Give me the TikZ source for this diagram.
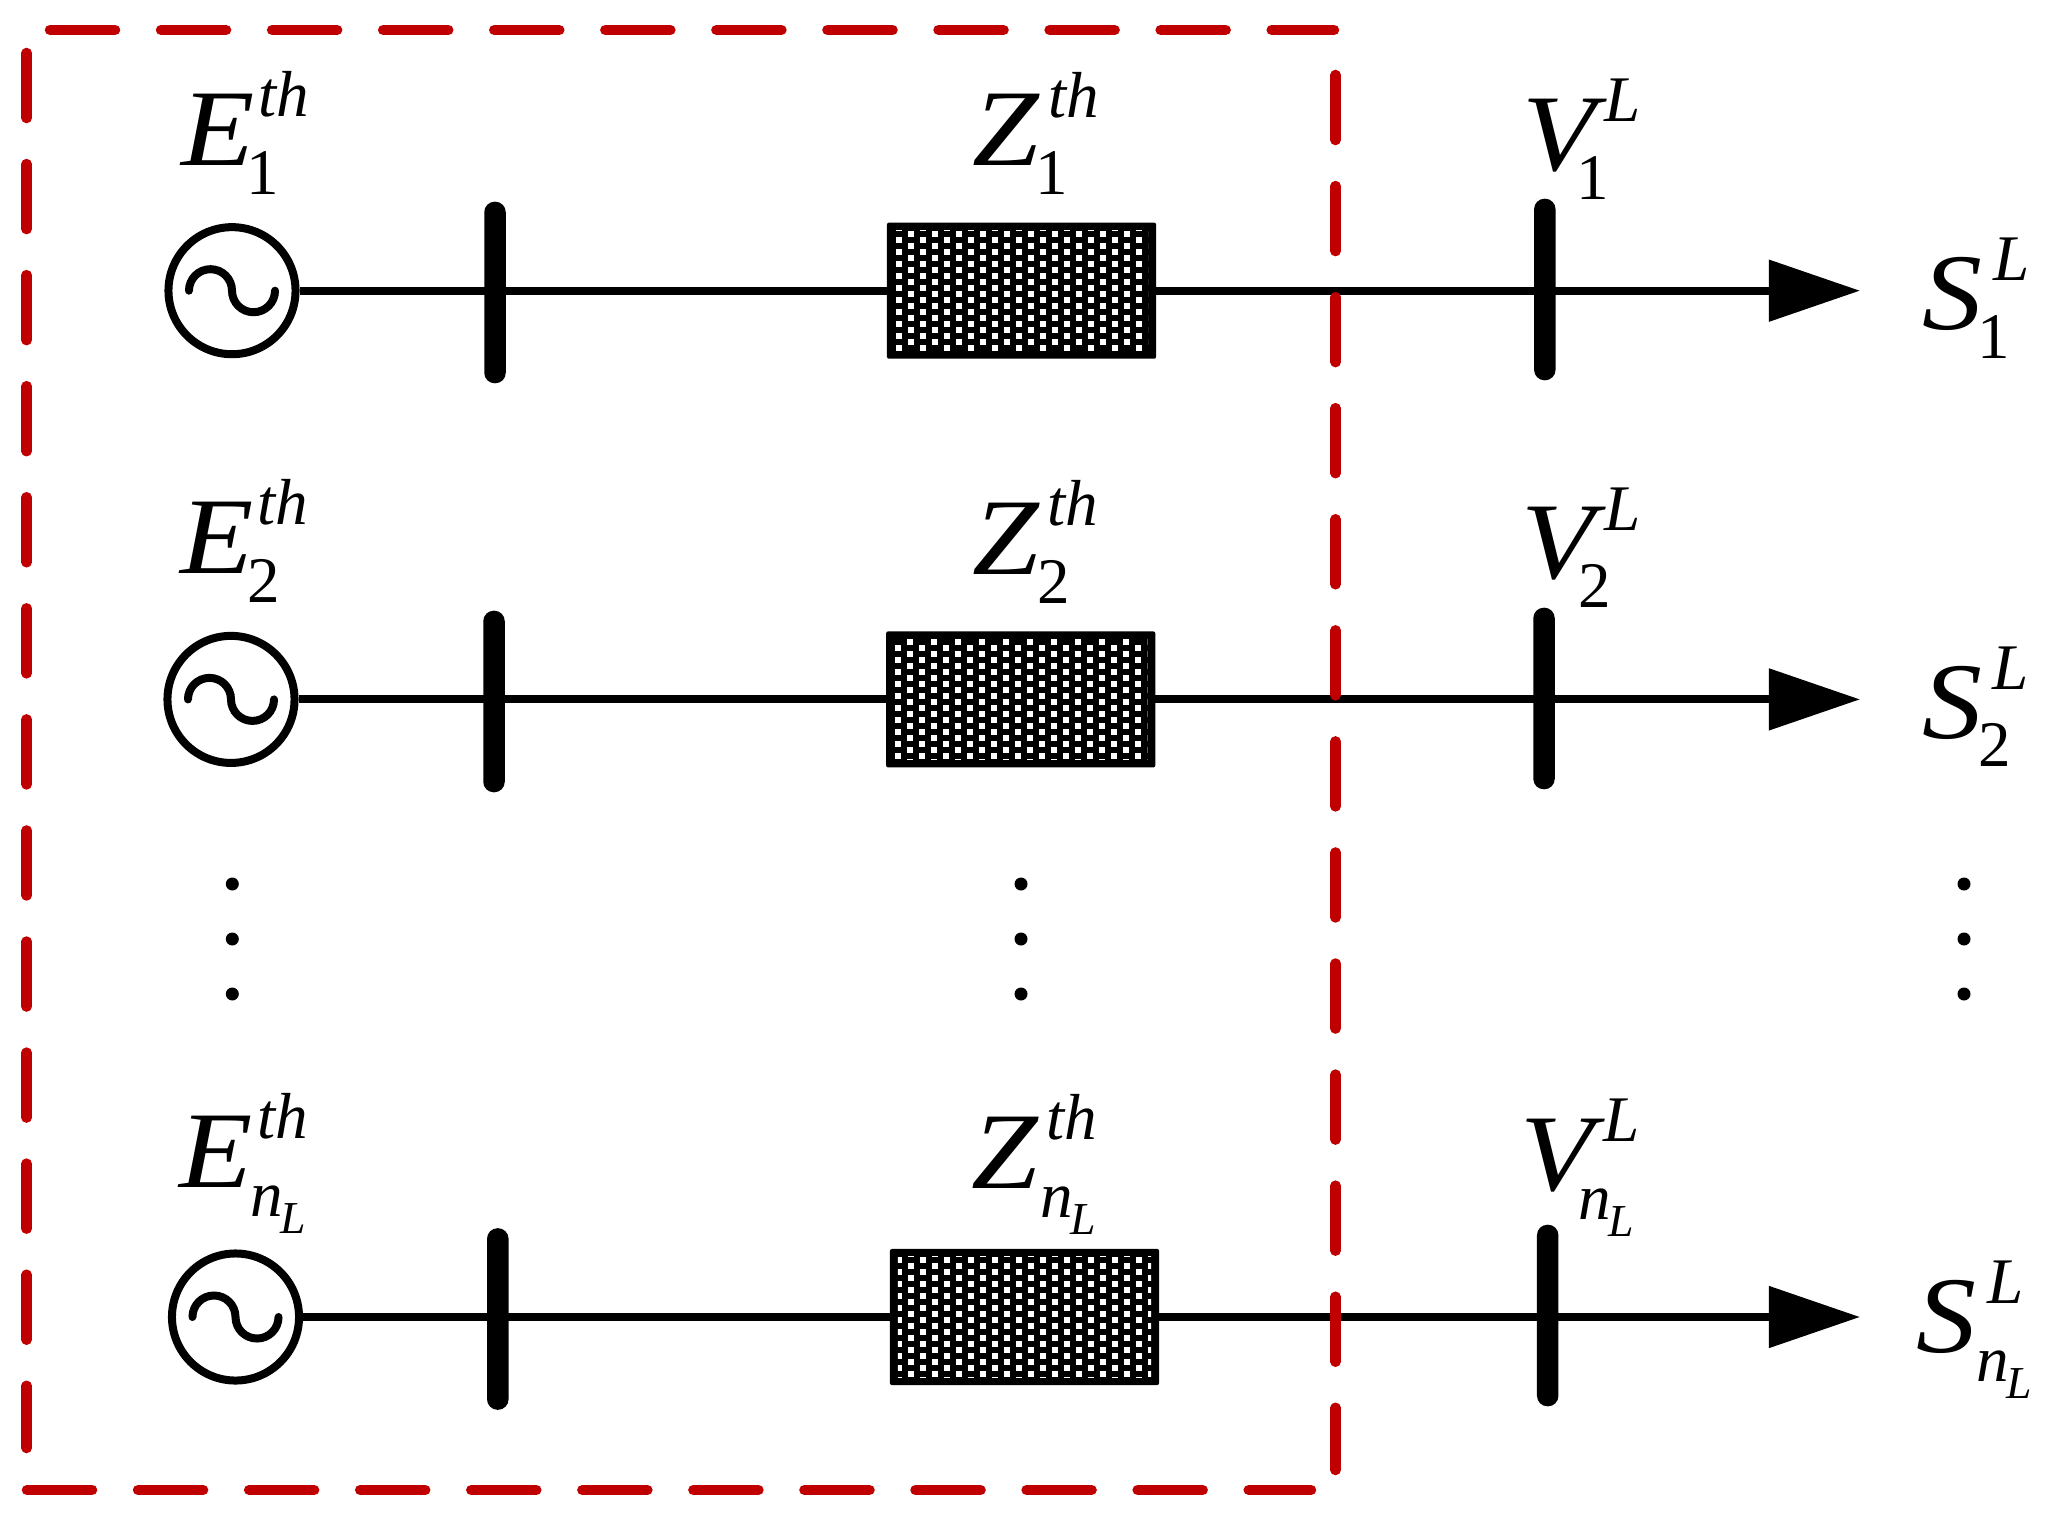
\documentclass[tikz,border=0pt]{standalone}
\usepackage{fontspec}
\setmainfont{Liberation Serif}
\newfontfamily\bigsym{Liberation Serif}[ItalicFeatures={FakeStretch=1.1}]
\usetikzlibrary{arrows.meta}

\newlength{\upx}
\setlength{\upx}{0.01cm}

% main letter, superscript, subscript, sup shift, sub shift
\newcommand{\symlab}[5]{%
  \rlap{\bigsym\fontsize{31}{31}\selectfont\textit{#1}}%
  \rlap{\kern#4\upx\raisebox{48.7\upx}{\fontsize{18.5}{18.5}\selectfont\textit{#2}}}%
  \kern#5\upx\raisebox{-29\upx}{\fontsize{18.5}{18.5}\selectfont #3}}
\newcommand{\nlsub}{\rlap{\textit{n}}\kern30\upx\raisebox{-17\upx}{\fontsize{13}{13}\selectfont\textit{L}}}

% white dots of an impedance box: node, first column x, first row y
\newcommand{\impdots}[3]{%
  \begin{scope}
    \clip ([shift={(8,8)}]#1.south west) rectangle ([shift={(-8,-8)}]#1.north east);
    \foreach \i in {0,...,23} {
      \foreach \j in {-1,...,11} {
        \pgfmathsetmacro{\cx}{#2+12*\i}
        \pgfmathsetmacro{\cy}{#3-12*\j-6*mod(\i,2)}
        \fill[white,shift={(#1.center)}] (\cx-3,\cy-3) rectangle (\cx+3,\cy+3);
      }
    }
  \end{scope}}

\definecolor{framered}{RGB}{192,0,0}

\tikzset{
  gen/.style={circle,draw,line width=0.08cm,minimum size=1.27cm,inner sep=0pt},
  wave/.style={line width=0.08cm,line cap=round},
  bus/.style={rectangle,fill=black,rounded corners=0.105cm,minimum width=0.215cm,minimum height=1.815cm,inner sep=0pt,outer sep=0pt},
  imp/.style={rectangle,fill=black,rounded corners=0.02cm,minimum width=2.69cm,minimum height=1.36cm,inner sep=0pt,outer sep=0pt},
  line/.style={line width=0.08cm},
  flow/.style={line width=0.08cm,-{Triangle[length=0.91cm,width=0.6cm]}},
  sym/.style={anchor=base west,inner sep=0pt,outer sep=0pt},
  vdot/.style={circle,fill=black,minimum size=0.13cm,inner sep=0pt},
  frame/.style={framered,line width=0.105cm,line cap=round,dash pattern=on 0.65cm off 0.46cm}
}

\begin{document}
\begin{tikzpicture}[x=0.01cm,y=0.01cm]

\useasboundingbox (0,0) rectangle (2058,-1519);

% first row
\node[gen] (gen1) at (232,-290.7) {};
\node[bus] (bus1) at (495,-292.5) {};
\node[imp] (imp1) at (1021.5,-290.7) {};
\node[bus] (bus1L) at (1544.8,-289.5) {};
\coordinate (load1) at (1860,-290.7);

% second row
\node[gen] (gen2) at (231,-699.4) {};
\node[bus] (bus2) at (494,-701.5) {};
\node[imp] (imp2) at (1020.7,-699.4) {};
\node[bus] (bus2L) at (1544,-698.5) {};
\coordinate (load2) at (1860,-699.4);

% last row
\node[gen] (gen3) at (235.5,-1317) {};
\node[bus] (bus3) at (497.8,-1319) {};
\node[imp] (imp3) at (1024.5,-1317) {};
\node[bus] (bus3L) at (1547.7,-1315.5) {};
\coordinate (load3) at (1860,-1317);

\impdots{imp1}{-134.5}{57}
\impdots{imp2}{-134.7}{57.4}
\impdots{imp3}{-125.5}{57}

\draw[line] (gen1) -- (imp1);
\draw[flow] (imp1) -- (load1);
\draw[line] (gen2) -- (imp2);
\draw[flow] (imp2) -- (load2);
\draw[line] (gen3) -- (imp3);
\draw[flow] (imp3) -- (load3);

\draw[wave] ([xshift=-0.43cm]gen1.center) arc[start angle=180,end angle=0,radius=0.215cm] arc[start angle=180,end angle=360,radius=0.215cm];
\draw[wave] ([xshift=-0.43cm]gen2.center) arc[start angle=180,end angle=0,radius=0.215cm] arc[start angle=180,end angle=360,radius=0.215cm];
\draw[wave] ([xshift=-0.43cm]gen3.center) arc[start angle=180,end angle=0,radius=0.215cm] arc[start angle=180,end angle=360,radius=0.215cm];

% labels
\node[sym] (E1) at (181,-165.7) {\symlab{E}{th}{1}{77}{65}};
\node[sym] (Z1) at (972.7,-166) {\symlab{Z}{th}{1}{75.5}{63}};
\node[sym] (V1) at (1522.3,-170.5) {\symlab{V}{L}{1}{82}{54}};
\node[sym] (S1) at (1922.4,-329.5) {\symlab{S}{L}{1}{71}{55.5}};

\node[sym] (E2) at (180,-573.7) {\symlab{E}{th}{2}{77}{67}};
\node[sym] (Z2) at (972,-574.5) {\symlab{Z}{th}{2}{75.5}{65}};
\node[sym] (V2) at (1521,-579) {\symlab{V}{L}{2}{83}{57}};
\node[sym] (S2) at (1922.7,-738) {\symlab{S}{L}{2}{70}{56}};

\node[sym] (E3) at (179.5,-1187.3) {\symlab{E}{th}{\nlsub}{78}{70.5}};
\node[sym] (Z3) at (971.4,-1188) {\symlab{Z}{th}{\nlsub}{75}{69}};
\node[sym] (V3) at (1520,-1190.5) {\symlab{V}{L}{\nlsub}{83}{58}};
\node[sym] (S3) at (1916,-1352) {\symlab{S}{L}{\nlsub}{71}{60}};

% vertical dots
\foreach \c/\x in {a/232.3,b/1021,c/1964} {
  \foreach \y in {884,939,994} {
    \node[vdot] (dot\c\y) at (\x,-\y) {};
  }
}

% dashed frame
\draw[frame] (50,-30) -- (1334,-30);
\draw[frame] (26.7,-53) -- (26.7,-1448);
\draw[frame] (27,-1490) -- (1311,-1490);
\draw[frame] (1335.6,-75) -- (1335.6,-1470);

\end{tikzpicture}
\end{document}
